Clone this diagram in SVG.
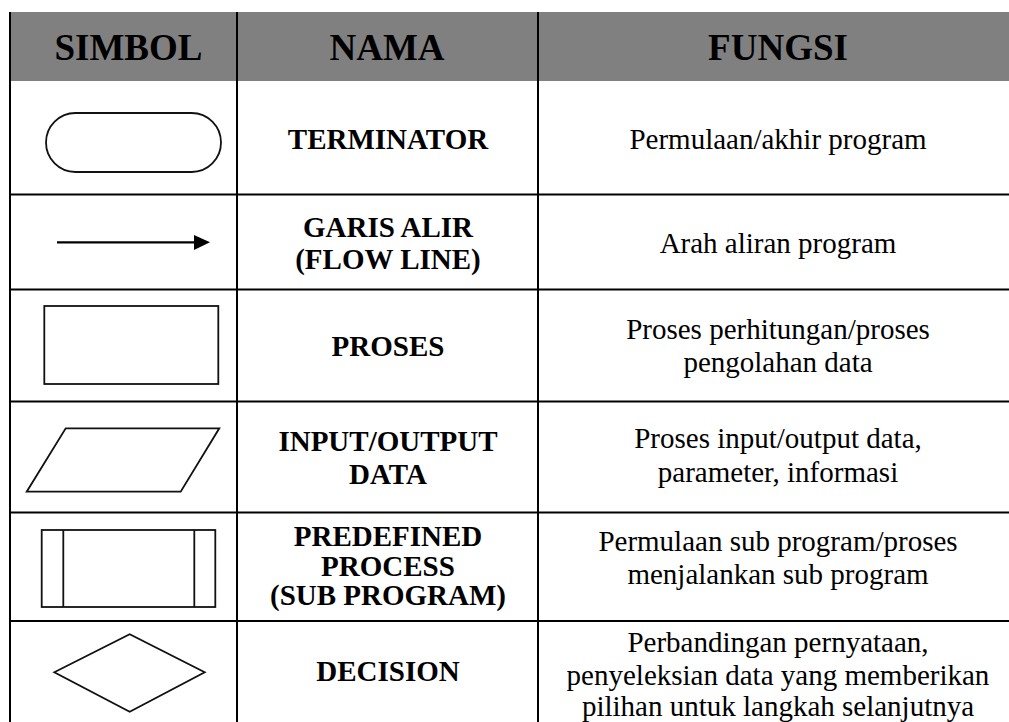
<svg xmlns="http://www.w3.org/2000/svg" width="1009" height="722" viewBox="0 0 1009 722">
<style>
.grid{stroke:#000;stroke-width:2;fill:none}
.sym{stroke:#111;stroke-width:1.8;fill:#fff}
.hd{font-family:"Liberation Serif","Times New Roman",Times,serif;font-weight:bold;font-size:37px;fill:#000;text-anchor:middle}
.nm{font-family:"Liberation Serif","Times New Roman",Times,serif;font-weight:bold;font-size:29px;fill:#000;text-anchor:middle}
.fn{font-family:"Liberation Serif","Times New Roman",Times,serif;font-size:29px;fill:#000;text-anchor:middle}
</style>
<rect width="1009" height="722" fill="#fff"/>
<g id="header">
<rect x="10" y="12" width="999" height="69" fill="#808080"/>
<text class="hd" x="128.5" y="60">SIMBOL</text>
<text class="hd" x="387" y="60">NAMA</text>
<text class="hd" x="778" y="60">FUNGSI</text>
</g>
<g id="grid" class="grid">
<line x1="10" y1="12" x2="10" y2="722"/>
<line x1="237" y1="12" x2="237" y2="722"/>
<line x1="538" y1="12" x2="538" y2="722"/>
<line x1="10" y1="194.5" x2="1009" y2="194.5"/>
<line x1="10" y1="289.5" x2="1009" y2="289.5"/>
<line x1="10" y1="401.5" x2="1009" y2="401.5"/>
<line x1="10" y1="512.5" x2="1009" y2="512.5"/>
<line x1="10" y1="621" x2="1009" y2="621"/>
</g>
<g id="row-terminator">
<rect class="sym" x="46" y="113" width="175" height="59" rx="29.5" ry="29.5"/>
<text class="nm" x="388" y="149">TERMINATOR</text>
<text class="fn" x="778" y="149">Permulaan/akhir program</text>
</g>
<g id="row-flowline">
<line x1="57" y1="242.3" x2="196" y2="242.3" stroke="#000" stroke-width="2.2"/>
<polygon points="194,235 210,242.3 194,250" fill="#000"/>
<text class="nm" x="388" y="236.5">GARIS ALIR</text>
<text class="nm" x="388" y="268.5">(FLOW LINE)</text>
<text class="fn" x="778" y="252.5">Arah aliran program</text>
</g>
<g id="row-proses">
<rect class="sym" x="44.3" y="306" width="174" height="78"/>
<text class="nm" x="388" y="356">PROSES</text>
<text class="fn" x="778" y="339">Proses perhitungan/proses</text>
<text class="fn" x="778" y="372">pengolahan data</text>
</g>
<g id="row-io">
<polygon class="sym" points="65.7,428.3 219.3,428.3 180.7,491.7 26.7,491.7"/>
<text class="nm" x="388" y="450.5">INPUT/OUTPUT</text>
<text class="nm" x="388" y="484.3">DATA</text>
<text class="fn" x="778" y="448">Proses input/output data,</text>
<text class="fn" x="778" y="482">parameter, informasi</text>
</g>
<g id="row-predefined">
<rect class="sym" x="41.7" y="530" width="173.6" height="77"/>
<line class="sym" x1="63.3" y1="530" x2="63.3" y2="607"/>
<line class="sym" x1="194.3" y1="530" x2="194.3" y2="607"/>
<text class="nm" x="388" y="546.3">PREDEFINED</text>
<text class="nm" x="388" y="575.5">PROCESS</text>
<text class="nm" x="388" y="605">(SUB PROGRAM)</text>
<text class="fn" x="778" y="551">Permulaan sub program/proses</text>
<text class="fn" x="778" y="584">menjalankan sub program</text>
</g>
<g id="row-decision">
<polygon class="sym" points="54.3,672.3 129.7,634.3 204.7,672.3 129.7,711.7"/>
<text class="nm" x="388" y="680.7">DECISION</text>
<text class="fn" x="778" y="652">Perbandingan pernyataan,</text>
<text class="fn" x="778" y="684.5">penyeleksian data yang memberikan</text>
<text class="fn" x="778" y="716">pilihan untuk langkah selanjutnya</text>
</g>
</svg>
